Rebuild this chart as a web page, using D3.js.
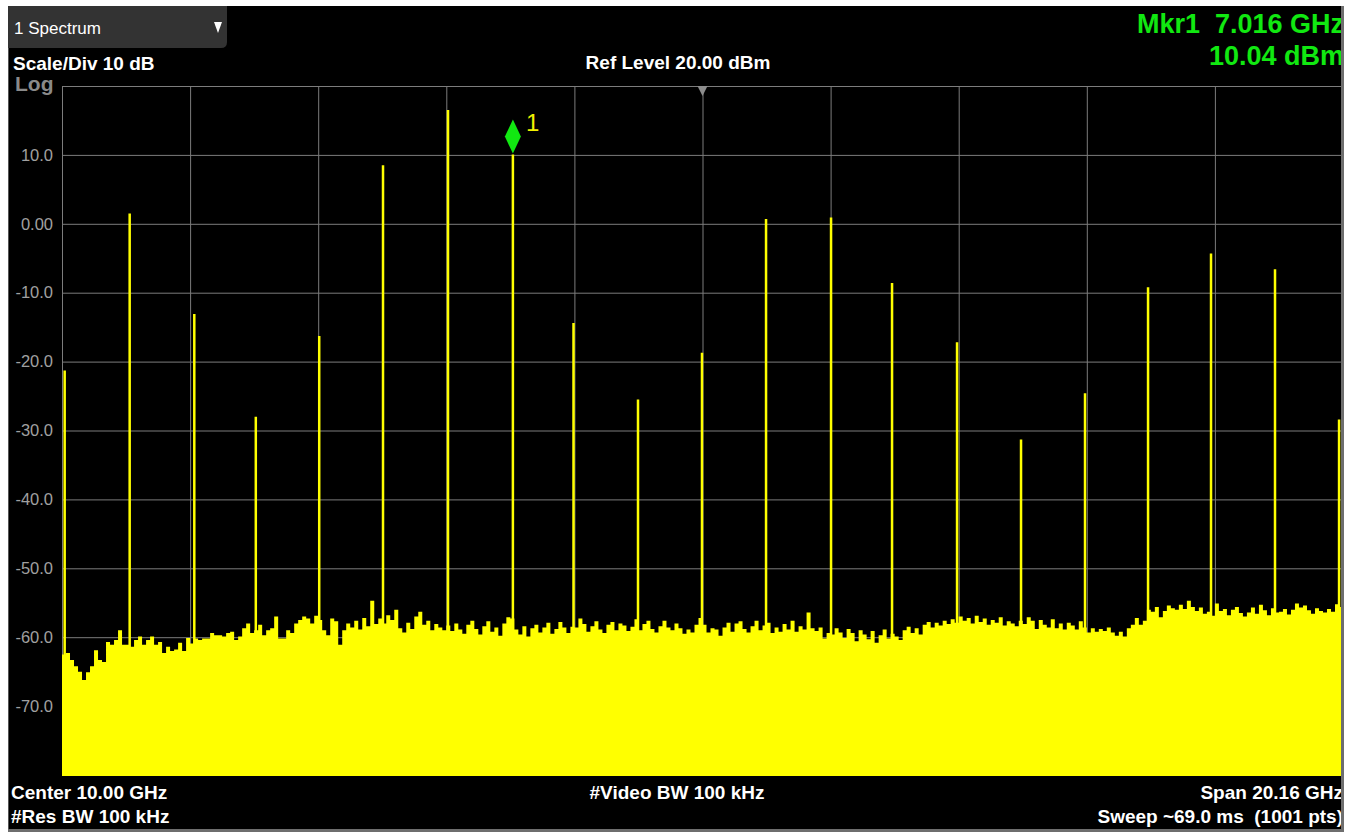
<!DOCTYPE html>
<html><head><meta charset="utf-8">
<script src="https://cdn.jsdelivr.net/npm/d3@7"></script>
<style>
html,body{margin:0;padding:0;background:#fff;}
svg{display:block;}
text{font-family:"Liberation Sans",Arial,sans-serif;}
</style></head><body>
<svg id="chart" width="1356" height="835"></svg>
<script>
// ---------- data ----------
const yTickValues = [10, 0, -10, -20, -30, -40, -50, -60, -70];
const yTickLabels = ["10.0", "0.00", "-10.0", "-20.0", "-30.0", "-40.0", "-50.0", "-60.0", "-70.0"];
const xGridGHz = [-0.08, 1.936, 3.952, 5.968, 7.984, 10.0, 12.016, 14.032, 16.048, 18.064, 20.08];

const harmonicFreqsGHz = [-0.038, 0.985, 2.002, 2.970, 3.968, 4.972, 5.995, 7.016, 7.970, 8.985, 9.992,
                          11.000, 12.023, 12.983, 14.006, 15.013, 16.020, 17.012, 18.003, 19.010, 20.018];
const harmonicLevelsDbm = [-21.3, 1.5, -13.1, -28.0, -16.3, 8.5, 16.5, 10.04, -14.4, -25.5, -18.7,
                           0.7, 0.9, -8.6, -17.2, -31.3, -24.6, -9.2, -4.3, -6.6, -28.4];

// noise floor, 320 bins spanning the full 20.16 GHz span
const noiseDbm = [
  -62.5,-62.3,-63.3,-64.2,-65.0,-66.2,-65.1,-64.2,-61.9,-63.3,-63.6,-60.7,-61.1,-60.4,-59.0,-61.1,
  -61.1,-61.4,-60.4,-59.9,-61.1,-60.4,-59.9,-61.1,-60.7,-62.3,-61.4,-62.0,-61.8,-60.8,-62.0,-60.1,
  -60.9,-60.2,-60.4,-60.2,-60.2,-59.4,-59.7,-59.7,-59.9,-59.4,-59.2,-60.4,-59.9,-58.7,-58.0,-59.4,
  -59.0,-58.2,-59.7,-59.0,-58.7,-57.0,-60.2,-60.2,-59.0,-59.4,-58.0,-57.5,-57.0,-57.3,-58.0,-56.9,
  -57.5,-59.0,-59.7,-57.3,-57.7,-61.1,-59.0,-58.0,-58.6,-57.6,-58.9,-57.2,-58.4,-54.7,-58.1,-57.3,
  -58.0,-56.8,-57.5,-56.0,-58.7,-59.3,-57.9,-58.8,-57.0,-56.3,-58.2,-57.6,-59.0,-58.1,-58.6,-59.0,
  -58.3,-59.1,-58.0,-58.9,-59.5,-58.2,-57.6,-58.8,-59.6,-58.4,-57.7,-59.2,-58.6,-59.8,-58.0,-57.1,
  -57.3,-58.9,-59.6,-58.4,-59.9,-58.7,-58.2,-59.3,-58.6,-57.9,-59.5,-58.8,-57.8,-58.6,-59.4,-58.5,
  -58.6,-57.3,-58.1,-59.2,-58.4,-57.7,-58.9,-59.4,-58.2,-57.8,-59.0,-58.0,-58.3,-59.1,-58.5,-57.4,
  -59.0,-58.1,-57.6,-58.8,-59.3,-58.4,-57.6,-58.6,-59.0,-58.0,-58.7,-59.5,-58.9,-59.3,-58.2,-57.2,
  -58.2,-59.3,-58.7,-58.9,-59.8,-58.6,-57.9,-59.2,-58.0,-57.7,-58.8,-59.3,-58.4,-57.6,-59.0,-58.3,
  -57.9,-59.4,-58.6,-59.2,-58.1,-58.9,-57.6,-59.2,-58.4,-58.9,-56.4,-58.7,-59.1,-58.6,-60.2,-59.4,
  -59.6,-58.7,-59.3,-60.1,-58.8,-59.4,-60.6,-59.0,-59.6,-60.3,-59.1,-60.8,-59.7,-58.9,-60.2,-59.5,
  -59.9,-60.4,-59.0,-58.5,-59.4,-58.7,-59.6,-58.2,-57.8,-58.6,-57.9,-58.3,-57.6,-58.1,-57.4,-57.9,
  -57.0,-57.6,-57.2,-58.0,-56.9,-57.8,-57.3,-58.2,-57.5,-57.9,-57.1,-58.3,-57.7,-58.0,-58.4,-57.6,
  -58.1,-57.1,-57.6,-58.8,-57.5,-58.2,-58.6,-57.4,-58.7,-58.0,-58.9,-57.9,-58.3,-58.9,-57.7,-58.6,
  -59.3,-58.7,-59.2,-58.8,-59.1,-58.6,-59.3,-59.8,-59.2,-59.9,-58.7,-58.2,-57.2,-58.2,-57.6,-56.0,
  -56.3,-55.6,-57.1,-56.2,-55.4,-55.8,-56.0,-55.3,-55.9,-54.7,-55.6,-56.2,-55.7,-56.6,-56.3,-56.9,
  -55.1,-56.2,-55.9,-56.8,-56.0,-55.6,-56.5,-57.0,-56.4,-55.7,-56.6,-55.3,-56.1,-56.8,-55.8,-56.4,
  -56.3,-55.9,-56.7,-56.0,-55.1,-55.7,-55.4,-56.1,-56.6,-55.8,-56.2,-56.4,-55.9,-56.3,-55.2,-55.6
];
const startGHz = -0.08, stopGHz = 20.08;
const markerFreqGHz = 7.016, markerLevelDbm = 10.04;

// ---------- drawing ----------
const svg = d3.select("#chart");
svg.append("rect").attr("width",1356).attr("height",835).attr("fill","#fff");
svg.append("rect").attr("x",8).attr("y",6).attr("width",1334).attr("height",824).attr("fill","#000");
// panel borders
svg.append("line").attr("x1",8.5).attr("x2",8.5).attr("y1",6).attr("y2",831).attr("stroke","#555").attr("stroke-width",1);
svg.append("line").attr("x1",1342.5).attr("x2",1342.5).attr("y1",6).attr("y2",832).attr("stroke","#6e6e6e").attr("stroke-width",3);
svg.append("line").attr("x1",8).attr("x2",1344).attr("y1",830.5).attr("y2",830.5).attr("stroke","#6e6e6e").attr("stroke-width",3);

const defs = svg.append("defs");
defs.append("clipPath").attr("id","plotClip").append("rect").attr("x",60).attr("y",80).attr("width",1281).attr("height",700);
defs.append("clipPath").attr("id","panelClip").append("rect").attr("x",0).attr("y",0).attr("width",1341).attr("height",835);

const x = d3.scaleLinear().domain([startGHz, stopGHz]).range([62, 1343]);
const y = d3.scaleLinear().domain([-80, 20]).range([775, 86]);

const plot = svg.append("g").attr("clip-path","url(#plotClip)");

// grid
const gx = plot.append("g").attr("transform","translate(0,775)")
  .call(d3.axisBottom(x).tickValues(xGridGHz).tickSize(-689).tickFormat(""));
gx.select(".domain").remove();
gx.selectAll("line").attr("stroke","#7c7c7c");
const gy = plot.append("g").attr("transform","translate(62,0)")
  .call(d3.axisLeft(y).tickValues(d3.range(-70, 30, 10)).tickSize(-1281).tickFormat(""));
gy.select(".domain").remove();
gy.selectAll("line").attr("stroke","#7c7c7c");

// noise floor area
const binW = (stopGHz - startGHz) / noiseDbm.length;
const noisePts = noiseDbm.map((v,i) => ({f: startGHz + i*binW, v}));
noisePts.push({f: stopGHz, v: noiseDbm[noiseDbm.length-1]});
plot.append("path").datum(noisePts)
  .attr("fill","#ffff00")
  .attr("d", d3.area().x(d => x(d.f)).y0(y(-80)+1).y1(d => y(d.v)).curve(d3.curveStepAfter));

// harmonic lines
plot.selectAll("line.harm").data(harmonicFreqsGHz).join("line").attr("class","harm")
  .attr("x1", d => x(d)).attr("x2", d => x(d))
  .attr("y1", (d,i) => y(harmonicLevelsDbm[i])).attr("y2", y(-80))
  .attr("stroke","#ffff00").attr("stroke-width",2.5);

// center frequency indicator
const cx0 = x(10.0);
svg.append("path").attr("d",`M${cx0-5},86 L${cx0+5},86 L${cx0},96 Z`).attr("fill","#8c8c8c");

// marker
const mx = x(markerFreqGHz), my = y(markerLevelDbm) - 1;
svg.append("path").attr("d",`M${mx},${my} L${mx+8},${my-17} L${mx},${my-34} L${mx-8},${my-17} Z`).attr("fill","#11e811");
svg.append("text").attr("x", mx+13).attr("y", my-23).attr("fill","#f0f000").attr("font-size","24px").text("1");

// y labels
const yl = svg.append("g").attr("transform","translate(53,0)")
  .call(d3.axisLeft(y).tickValues(yTickValues).tickSize(0).tickPadding(0).tickFormat((d,i) => yTickLabels[i]));
yl.select(".domain").remove();
yl.selectAll("text").attr("fill","#a0a0a0").attr("font-size","16.5px").attr("font-family","'Liberation Sans',Arial,sans-serif");

// tab
svg.append("path").attr("d","M8,6 H227 V42 Q227,48 221,48 H8 Z").attr("fill","#333");
svg.append("text").attr("x",14).attr("y",34).attr("fill","#fff").attr("font-size","17px").text("1 Spectrum");
svg.append("path").attr("d","M214,22 L222,22 L218,33 Z").attr("fill","#fff");

const txt = svg.append("g").attr("clip-path","url(#panelClip)");
function t(xp, yp, s, opts = {}) {
  return txt.append("text").attr("x",xp).attr("y",yp)
    .attr("fill", opts.fill || "#fff")
    .attr("font-size", opts.size || "19px")
    .attr("font-weight", opts.weight || "bold")
    .attr("text-anchor", opts.anchor || "start")
    .attr("xml:space","preserve")
    .text(s);
}
t(13, 70, "Scale/Div 10 dB");
t(15, 91, "Log", {fill:"#8a8a8a", size:"21px"});
t(678, 69, "Ref Level 20.00 dBm", {anchor:"middle"});
t(1344, 33, "Mkr1  7.016 GHz", {fill:"#11e811", size:"27px", anchor:"end"});
t(1344, 65, "10.04 dBm", {fill:"#11e811", size:"27px", anchor:"end"});
t(11, 799, "Center 10.00 GHz");
t(11, 823, "#Res BW 100 kHz");
t(677, 799, "#Video BW 100 kHz", {anchor:"middle"});
t(1343, 799, "Span 20.16 GHz", {anchor:"end"});
t(1343, 823, "Sweep ~69.0 ms  (1001 pts)", {anchor:"end"});
</script>
</body></html>
